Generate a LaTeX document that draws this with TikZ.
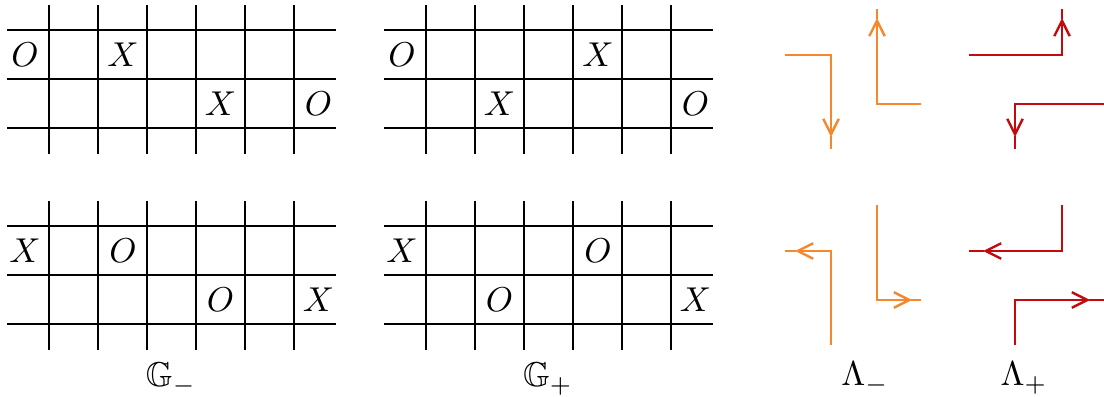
\documentclass[tikz,border=0pt]{standalone}
\usepackage{amssymb}
\usetikzlibrary{arrows.meta}
\definecolor{lamorange}{RGB}{245,135,45}
\definecolor{lamred}{RGB}{195,10,15}
\tikzset{
  gridline/.style={line width=0.75pt, black},
  mk/.style={inner sep=0pt, font=\normalsize},
  lam/.style={line width=0.7pt, line join=miter},
  tipA/.style={-{Straight Barb[length=4.5pt,width=4.5pt,line width=0.7pt]}},
  lab/.style={anchor=base, inner sep=0pt}
}
\newcommand\gridbox[6]{%
  \begin{scope}[shift={(#1,#2)}]
    \foreach \yy in {30,79,128} \draw[gridline] (7,\yy) -- (336,\yy);
    \foreach \k in {1,...,6} \draw[gridline] (49*\k,5) -- (49*\k,154);
    \foreach \c/\s [count=\i] in {#4} \node[mk] (#3t\i) at (49*\c+25,54.5) {$\s$};
    \foreach \c/\s [count=\i] in {#5} \node[mk] (#3b\i) at (49*\c+24.5,103.5) {$\s$};
  \end{scope}}
\begin{document}
\begin{tikzpicture}[x=0.0102cm,y=-0.0102cm]
\useasboundingbox (0,0) rectangle (1104,397);
\gridbox{0}{0}{ga}{0/O,2/X}{4/X,6/O}{}
\gridbox{377}{0}{gb}{0/O,4/X}{2/X,6/O}{}
\gridbox{0}{196}{gc}{0/X,2/O}{4/O,6/X}{}
\gridbox{377}{196}{gd}{0/X,4/O}{2/O,6/X}{}
\node[lab] (Gm) at (171,387) {$\mathbb{G}_-$};
\node[lab] (Gp) at (548,387) {$\mathbb{G}_+$};
% Lambda minus (orange)
\draw[lam,lamorange,tipA] (785,55) -- (831,55) -- (831,137);
\draw[lam,lamorange] (831,136) -- (831,149);
\draw[lam,lamorange,tipA] (921,104) -- (877,104) -- (877,18);
\draw[lam,lamorange] (877,19) -- (877,9);
\draw[lam,lamorange,tipA] (831,345) -- (831,251) -- (795,251);
\draw[lam,lamorange] (796,251) -- (785,251);
\draw[lam,lamorange,tipA] (877,205) -- (877,300) -- (912,300);
\draw[lam,lamorange] (911,300) -- (921,300);
% Lambda plus (red)
\draw[lam,lamred,tipA] (969,55) -- (1062,55) -- (1062,18);
\draw[lam,lamred] (1062,19) -- (1062,9);
\draw[lam,lamred,tipA] (1104,104) -- (1015,104) -- (1015,137);
\draw[lam,lamred] (1015,136) -- (1015,149);
\draw[lam,lamred,tipA] (1062,205) -- (1062,251) -- (983,251);
\draw[lam,lamred] (984,251) -- (969,251);
\draw[lam,lamred,tipA] (1015,345) -- (1015,300) -- (1090,300);
\draw[lam,lamred] (1089,300) -- (1104,300);
\node[lab] (Lm) at (865,386) {$\Lambda_-$};
\node[lab] (Lp) at (1024,386) {$\Lambda_+$};
\end{tikzpicture}
\end{document}
